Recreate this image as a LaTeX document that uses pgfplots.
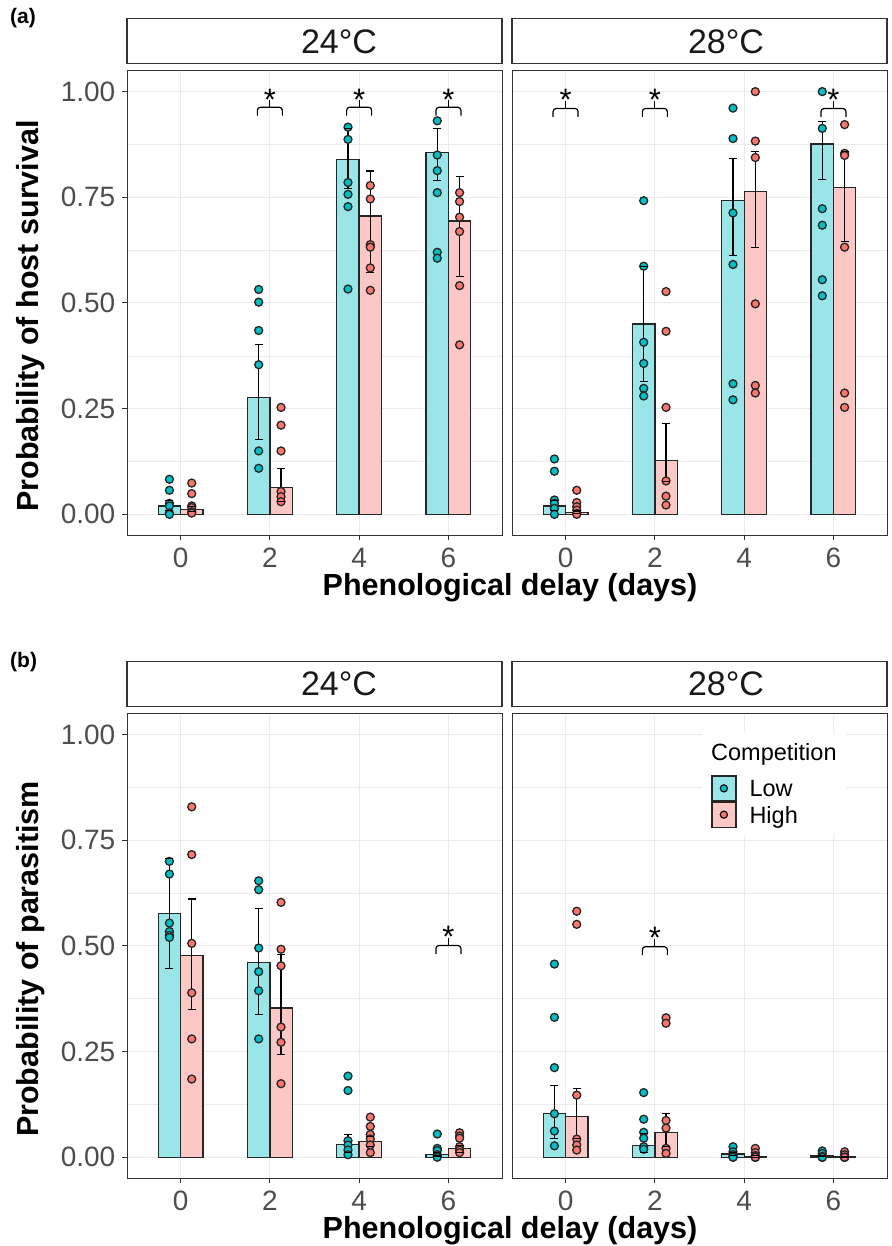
\documentclass[border=0pt]{standalone}
\usepackage{pgfplots}
\pgfplotsset{compat=1.18}
\usepackage{fontspec}
\setmainfont{Liberation Sans}
\definecolor{lowpt}{HTML}{00BFC4}
\definecolor{highpt}{HTML}{F8766D}
\definecolor{lowbar}{HTML}{99E5E7}
\definecolor{highbar}{HTML}{FCC8C5}
\definecolor{gridgray}{HTML}{EBEBEB}
\definecolor{axisgray}{HTML}{333333}
\definecolor{ticktext}{HTML}{4D4D4D}
\newcommand\ticksize{\fontsize{28pt}{30pt}\selectfont}
\newcommand\stripsize{\fontsize{34pt}{36pt}\selectfont}
\newcommand\titlesize{\fontsize{30.5pt}{32pt}\selectfont\bfseries}
\newcommand\legsize{\fontsize{23.5pt}{26pt}\selectfont}
\newcommand\starsize{\fontsize{31pt}{33pt}\selectfont}
\newcommand\panelsize{\fontsize{21pt}{23pt}\selectfont\bfseries}
\newcommand{\sig}[5]{%
  \draw[line width=1.2pt, rounded corners=3pt] (axis cs:#1-0.14,#2) -- (axis cs:#1-0.14,#3) -- (axis cs:#1+0.14,#3) -- (axis cs:#1+0.14,#2);
  \draw[line width=1.2pt] (axis cs:#1,#3) -- (axis cs:#1,#4);
  \node[font=\starsize, anchor=base, yshift=-17.6pt, inner sep=0pt] at (axis cs:#1,#5) {*};}
\pgfplotsset{
  facet/.style={
    scale only axis, width=375pt, height=465pt,
    xmin=-0.6, xmax=3.6, ymin=-0.05, ymax=1.05,
    xtick={0,1,2,3}, xticklabels={0,2,4,6},
    ytick={0,0.25,0.5,0.75,1},
    yticklabels={0.00,0.25,0.50,0.75,1.00},
    minor ytick={0.125,0.375,0.625,0.875},
    grid=both,
    major grid style={draw=gridgray, line width=1pt},
    minor grid style={draw=gridgray, line width=0.6pt},
    axis line style={draw=axisgray, line width=1pt},
    tick style={draw=axisgray, line width=1pt},
    tick align=outside, major tick length=5pt, minor tick length=0pt,
    xtick pos=bottom, ytick pos=left,
    tick label style={font=\ticksize, text=ticktext, inner sep=0pt},
    xticklabel style={anchor=north, yshift=-7.5pt},
    yticklabel style={anchor=east, xshift=-6.5pt},
    clip=false,
    title style={at={(0.5,1)}, anchor=south, draw=axisgray, line width=1.2pt, fill=white,
      minimum width=375pt, minimum height=45pt, inner sep=0pt, font=\stripsize, text=black!90},
  },
  rightfacet/.style={yticklabels={}, ytick style={draw=none}},
  barlow/.style={ybar, bar width=0.25, bar shift=0pt, fill=lowbar, draw=black!85, line width=1.3pt},
  barhigh/.style={ybar, bar width=0.25, bar shift=0pt, fill=highbar, draw=black!85, line width=1.3pt},
  ptlow/.style={only marks, mark=*, mark size=4pt, mark options={draw=black!85, fill=lowpt, line width=1.3pt}},
  pthigh/.style={only marks, mark=*, mark size=4pt, mark options={draw=black!85, fill=highpt, line width=1.3pt}},
  errb/.style={draw=none, mark=none, error bars/.cd, y dir=both, y explicit, error mark=none,
    error bar style={draw=black, solid, line width=1.2pt}},
  caps/.style={only marks, mark=-, mark size=4pt, mark options={draw=black, solid, line width=1.2pt}},
}
\begin{document}
\begin{tikzpicture}
\useasboundingbox (0,0) rectangle (891pt,1246pt);
% ---------------- Panel (a), 24 C
\begin{axis}[facet, at={(127pt,710.5pt)}, anchor=south west,
  title={\makebox[375pt][l]{\hspace{174pt}24°C}}]
\addplot[barlow] coordinates {(-0.125,0.020) (0.875,0.276) (1.875,0.840) (2.875,0.856)};
\addplot[barhigh] coordinates {(0.125,0.012) (1.125,0.063) (2.125,0.706) (3.125,0.694)};
\addplot[ptlow] coordinates {
(-0.125,0.083) (-0.125,0.057) (-0.125,0.026) (-0.125,0.020) (-0.125,0.003) (-0.125,0.0)
(0.875,0.532) (0.875,0.502) (0.875,0.435) (0.875,0.354) (0.875,0.150) (0.875,0.109)
(1.875,0.916) (1.875,0.887) (1.875,0.785) (1.875,0.757) (1.875,0.728) (1.875,0.533)
(2.875,0.931) (2.875,0.850) (2.875,0.813) (2.875,0.761) (2.875,0.620) (2.875,0.606)};
\addplot[pthigh] coordinates {
(0.125,0.074) (0.125,0.049) (0.125,0.020) (0.125,0.016) (0.125,0.006) (0.125,0.003)
(1.125,0.253) (1.125,0.211) (1.125,0.150) (1.125,0.054) (1.125,0.042) (1.125,0.030)
(2.125,0.778) (2.125,0.746) (2.125,0.638) (2.125,0.632) (2.125,0.583) (2.125,0.530)
(3.125,0.761) (3.125,0.740) (3.125,0.703) (3.125,0.669) (3.125,0.541) (3.125,0.401)};
\addplot[errb] coordinates {
(-0.125,0.020) += (0,0.012) -= (0,0.010)
(0.875,0.276) += (0,0.126) -= (0,0.098)
(1.875,0.840) += (0,0.073) -= (0,0.070)
(2.875,0.856) += (0,0.057) -= (0,0.066)
(0.125,0.012) += (0,0.006) -= (0,0.006)
(1.125,0.063) += (0,0.046) -= (0,0.033)
(2.125,0.706) += (0,0.106) -= (0,0.134)
(3.125,0.694) += (0,0.105) -= (0,0.132)};
\addplot[caps] coordinates {
(-0.125,0.032) (-0.125,0.010) (0.875,0.402) (0.875,0.178) (1.875,0.913) (1.875,0.770) (2.875,0.913) (2.875,0.790)
(0.125,0.018) (0.125,0.006) (1.125,0.109) (1.125,0.030) (2.125,0.812) (2.125,0.572) (3.125,0.799) (3.125,0.562)};
\sig{1}{0.943}{0.963}{0.980}{0.998}
\sig{2}{0.943}{0.963}{0.980}{0.998}
\sig{3}{0.943}{0.963}{0.980}{0.998}
\end{axis}
% ---------------- Panel (a), 28 C
\begin{axis}[facet, rightfacet, at={(512pt,710.5pt)}, anchor=south west,
  title={\makebox[375pt][l]{\hspace{176pt}28°C}}]
\addplot[barlow] coordinates {(-0.125,0.020) (0.875,0.450) (1.875,0.743) (2.875,0.876)};
\addplot[barhigh] coordinates {(0.125,0.005) (1.125,0.127) (2.125,0.763) (3.125,0.773)};
\addplot[ptlow] coordinates {
(-0.125,0.131) (-0.125,0.102) (-0.125,0.034) (-0.125,0.026) (-0.125,0.014) (-0.125,0.0)
(0.875,0.742) (0.875,0.587) (0.875,0.407) (0.875,0.357) (0.875,0.298) (0.875,0.280)
(1.875,0.961) (1.875,0.889) (1.875,0.713) (1.875,0.591) (1.875,0.309) (1.875,0.271)
(2.875,1.000) (2.875,0.913) (2.875,0.723) (2.875,0.684) (2.875,0.555) (2.875,0.517)};
\addplot[pthigh] coordinates {
(0.125,0.057) (0.125,0.028) (0.125,0.018) (0.125,0.010) (0.125,0.002) (0.125,0.0)
(1.125,0.527) (1.125,0.433) (1.125,0.253) (1.125,0.079) (1.125,0.043) (1.125,0.022)
(2.125,1.000) (2.125,0.883) (2.125,0.844) (2.125,0.498) (2.125,0.305) (2.125,0.287)
(3.125,0.922) (3.125,0.854) (3.125,0.849) (3.125,0.632) (3.125,0.287) (3.125,0.253)};
\addplot[errb] coordinates {
(-0.125,0.020) += (0,0.012) -= (0,0.010)
(0.875,0.450) += (0,0.137) -= (0,0.135)
(1.875,0.743) += (0,0.099) -= (0,0.130)
(2.875,0.876) += (0,0.053) -= (0,0.084)
(0.125,0.005) += (0,0.003) -= (0,0.003)
(1.125,0.127) += (0,0.087) -= (0,0.050)
(2.125,0.763) += (0,0.096) -= (0,0.132)
(3.125,0.773) += (0,0.086) -= (0,0.127)};
\addplot[caps] coordinates {
(-0.125,0.032) (-0.125,0.010) (0.875,0.587) (0.875,0.315) (1.875,0.842) (1.875,0.613) (2.875,0.929) (2.875,0.792)
(0.125,0.008) (0.125,0.002) (1.125,0.214) (1.125,0.077) (2.125,0.859) (2.125,0.631) (3.125,0.859) (3.125,0.646)};
\sig{0}{0.940}{0.960}{0.978}{0.996}
\sig{1}{0.940}{0.960}{0.978}{0.996}
\sig{3}{0.940}{0.960}{0.978}{0.998}
\end{axis}
% ---------------- Panel (b), 24 C
\begin{axis}[facet, at={(127pt,67.6pt)}, anchor=south west,
  title={\makebox[375pt][l]{\hspace{174pt}24°C}}]
\addplot[barlow] coordinates {(-0.125,0.576) (0.875,0.461) (1.875,0.030) (2.875,0.007)};
\addplot[barhigh] coordinates {(0.125,0.478) (1.125,0.353) (2.125,0.037) (3.125,0.020)};
\addplot[ptlow] coordinates {
(-0.125,0.700) (-0.125,0.670) (-0.125,0.554) (-0.125,0.534) (-0.125,0.525) (-0.125,0.520)
(0.875,0.654) (0.875,0.633) (0.875,0.495) (0.875,0.439) (0.875,0.394) (0.875,0.280)
(1.875,0.192) (1.875,0.158) (1.875,0.039) (1.875,0.029) (1.875,0.017) (1.875,0.006)
(2.875,0.055) (2.875,0.021) (2.875,0.016) (2.875,0.006) (2.875,0.002) (2.875,0.0)};
\addplot[pthigh] coordinates {
(0.125,0.829) (0.125,0.716) (0.125,0.506) (0.125,0.389) (0.125,0.280) (0.125,0.185)
(1.125,0.603) (1.125,0.492) (1.125,0.453) (1.125,0.308) (1.125,0.272) (1.125,0.174)
(2.125,0.095) (2.125,0.073) (2.125,0.054) (2.125,0.043) (2.125,0.029) (2.125,0.011)
(3.125,0.058) (3.125,0.050) (3.125,0.045) (3.125,0.025) (3.125,0.017) (3.125,0.011)};
\addplot[errb] coordinates {
(-0.125,0.576) += (0,0.130) -= (0,0.130)
(0.875,0.461) += (0,0.128) -= (0,0.123)
(1.875,0.030) += (0,0.023) -= (0,0.018)
(2.875,0.007) += (0,0.005) -= (0,0.004)
(0.125,0.478) += (0,0.133) -= (0,0.129)
(1.125,0.353) += (0,0.126) -= (0,0.109)
(2.125,0.037) += (0,0.013) -= (0,0.012)
(3.125,0.020) += (0,0.008) -= (0,0.008)};
\addplot[caps] coordinates {
(-0.125,0.706) (-0.125,0.446) (0.875,0.589) (0.875,0.338) (1.875,0.053) (1.875,0.012) (2.875,0.012) (2.875,0.003)
(0.125,0.611) (0.125,0.349) (1.125,0.479) (1.125,0.244) (2.125,0.050) (2.125,0.025) (3.125,0.028) (3.125,0.012)};
\sig{3}{0.481}{0.501}{0.519}{0.538}
\end{axis}
% ---------------- Panel (b), 28 C
\begin{axis}[facet, rightfacet, at={(512pt,67.6pt)}, anchor=south west,
  title={\makebox[375pt][l]{\hspace{176pt}28°C}},
  legend style={at={(0.5307,0.8675)}, anchor=north west, draw=none, fill=none,
    inner sep=0pt, row sep=0pt, font=\legsize, nodes={inner sep=0pt},
    /tikz/every odd column/.append style={column sep=13pt}},
  legend cell align=left]
\fill[white] (axis cs:1.528,1.004) rectangle (axis cs:3.141,0.763);
\addplot[barlow, legend image code/.code={%
  \draw[fill=lowbar, draw=black!85, line width=1.3pt] (0pt,-11.5pt) rectangle (24pt,13.5pt);
  \filldraw[fill=lowpt, draw=black, line width=1.1pt] (12pt,1pt) circle (3.6pt);}]
  coordinates {(-0.125,0.103) (0.875,0.028) (1.875,0.008) (2.875,0.003)};
\addlegendentry{Low}
\addplot[barhigh, legend image code/.code={%
  \draw[fill=highbar, draw=black!85, line width=1.3pt] (0pt,-11.5pt) rectangle (24pt,13.5pt);
  \filldraw[fill=highpt, draw=black, line width=1.1pt] (12pt,1pt) circle (3.6pt);}]
  coordinates {(0.125,0.096) (1.125,0.058) (2.125,0.002) (3.125,0.001)};
\addlegendentry{High}
\addplot[ptlow] coordinates {
(-0.125,0.457) (-0.125,0.331) (-0.125,0.212) (-0.125,0.103) (-0.125,0.062) (-0.125,0.027)
(0.875,0.153) (0.875,0.090) (0.875,0.059) (0.875,0.045) (0.875,0.025) (0.875,0.019)
(1.875,0.025) (1.875,0.013) (1.875,0.006) (1.875,0.002) (1.875,0.0) (1.875,0.0)
(2.875,0.015) (2.875,0.009) (2.875,0.002) (2.875,0.0) (2.875,0.0) (2.875,0.0)};
\addplot[pthigh] coordinates {
(0.125,0.582) (0.125,0.551) (0.125,0.147) (0.125,0.043) (0.125,0.029) (0.125,0.017)
(1.125,0.330) (1.125,0.317) (1.125,0.087) (1.125,0.069) (1.125,0.021) (1.125,0.009)
(2.125,0.021) (2.125,0.011) (2.125,0.004) (2.125,0.0) (2.125,0.0) (2.125,0.0)
(3.125,0.013) (3.125,0.006) (3.125,0.0) (3.125,0.0) (3.125,0.0) (3.125,0.0)};
\addplot[errb] coordinates {
(-0.125,0.103) += (0,0.067) -= (0,0.058)
(0.875,0.028) += (0,0.029) -= (0,0.016)
(1.875,0.008) += (0,0.004) -= (0,0.004)
(2.875,0.003) += (0,0.002) -= (0,0.002)
(0.125,0.096) += (0,0.067) -= (0,0.051)
(1.125,0.058) += (0,0.045) -= (0,0.033)
(2.125,0.002) += (0,0.002) -= (0,0.002)
(3.125,0.001) += (0,0.001) -= (0,0.001)};
\addplot[caps] coordinates {
(-0.125,0.170) (-0.125,0.045) (0.875,0.057) (0.875,0.012) (1.875,0.012) (1.875,0.004) (2.875,0.005) (2.875,0.001)
(0.125,0.163) (0.125,0.045) (1.125,0.103) (1.125,0.025) (2.125,0.004) (2.125,0.0) (3.125,0.002) (3.125,0.0)};
\sig{1}{0.478}{0.498}{0.516}{0.536}
\end{axis}
% ---------------- titles and labels
\node[anchor=base west, font=\legsize, inner sep=0pt] at (711pt,485pt) {Competition};
\node[font=\titlesize] at (510pt,658pt) {Phenological delay (days)};
\node[font=\titlesize] at (510pt,15pt) {Phenological delay (days)};
\node[rotate=90, font=\titlesize] at (31pt,930pt) {Probability of host survival};
\node[rotate=90, font=\titlesize] at (31pt,287pt) {Probability of parasitism};
\node[anchor=north west, font=\panelsize, inner sep=0pt] at (10pt,1238pt) {(a)};
\node[anchor=north west, font=\panelsize, inner sep=0pt] at (10pt,594pt) {(b)};
\end{tikzpicture}
\end{document}
